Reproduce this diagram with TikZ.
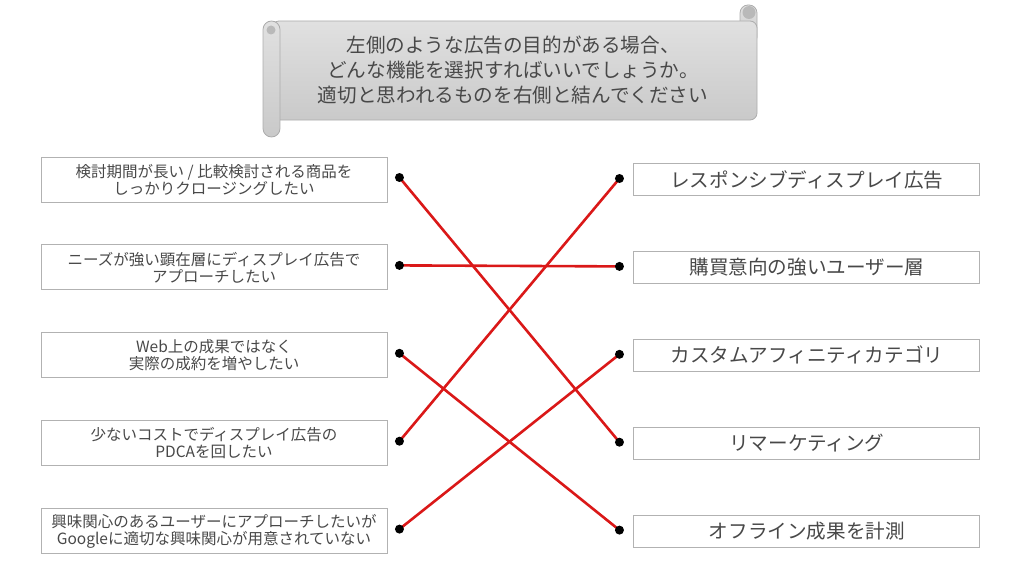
\documentclass[tikz,border=0pt]{standalone}
\usepackage{fontspec}
\setmainfont{Noto Sans CJK JP}
\usepackage{xcolor}
\usetikzlibrary{positioning}
\definecolor{linkred}{RGB}{218,24,24}
\definecolor{boxline}{RGB}{178,178,178}
\definecolor{txtgray}{RGB}{72,72,72}

\begin{document}
\begin{tikzpicture}[x=1pt, y=-1pt, node distance=42pt, thick,
    goal/.style={draw=boxline, line width=0.9pt, minimum width=346pt, minimum height=45pt, inner sep=0pt, align=center, text=txtgray, font=\fontsize{15.5}{17}\selectfont},
    feature/.style={draw=boxline, line width=0.9pt, minimum width=346pt, minimum height=32pt, inner sep=0pt, text=txtgray, font=\fontsize{19.6}{22}\selectfont},
    link/.style={draw=linkred, line width=2.6pt},
    dot/.style={circle, fill=black, inner sep=0pt, minimum size=9pt},
    scroll/.style={draw=gray!65, line width=0.8pt, top color=gray!24, bottom color=gray!42}]
       \useasboundingbox (0,0) rectangle (1024,575);

       % Scroll banner
       \draw[scroll, rounded corners=8pt] (740,5) rectangle (757,45);
       \draw[scroll, rounded corners=7pt] (272,21) rectangle (757,120);
       \draw[scroll, rounded corners=8.5pt] (263,21) rectangle (280,137);
       \fill[gray!55] (749,12.5) circle (6.5pt);
       \fill[gray!55] (271,30) circle (4.5pt);
       \node[text=txtgray, align=center, font=\fontsize{19.6}{25}\selectfont] (title) at (513,70)
           {左側のような広告の目的がある場合、\\どんな機能を選択すればいいでしょうか。\\適切と思われるものを右側と結んでください};

       % Nodes
       \node[goal] (g1) at (214,179.5) {検討期間が長い / 比較検討される商品を\\しっかりクロージングしたい};
       \node[goal, below=of g1] (g2) {ニーズが強い顕在層にディスプレイ広告で\\アプローチしたい};
       \node[goal, below=of g2] (g3) {Web上の成果ではなく\\実際の成約を増やしたい};
       \node[goal, below=of g3] (g4) {少ないコストでディスプレイ広告の\\PDCAを回したい};
       \node[goal, below=of g4] (g5) {興味関心のあるユーザーにアプローチしたいが\\Googleに適切な興味関心が用意されていない};

       \node[feature, right=246pt of g1] (f1) {レスポンシブディスプレイ広告};
       \node[feature, right=246pt of g2] (f2) {購買意向の強いユーザー層};
       \node[feature, right=246pt of g3] (f3) {カスタムアフィニティカテゴリ};
       \node[feature, right=246pt of g4] (f4) {リマーケティング};
       \node[feature, right=246pt of g5] (f5) {オフライン成果を計測};

       % Dots
       \foreach \i in {1,...,5} {
           \coordinate (gp\i) at ([xshift=12pt, yshift=2pt]g\i.east);
           \coordinate (fp\i) at ([xshift=-14pt, yshift=1pt]f\i.west);
       }

       % Links
       \draw[link] (gp1) -- (fp4);
       \draw[link] (gp2) -- (fp2);
       \draw[link] (gp3) -- (fp5);
       \draw[link] (gp4) -- (fp1);
       \draw[link] (gp5) -- (fp3);

       \foreach \i in {1,...,5} {
           \node[dot] (gd\i) at (gp\i) {};
           \node[dot] (fd\i) at (fp\i) {};
       }
\end{tikzpicture}
\end{document}
